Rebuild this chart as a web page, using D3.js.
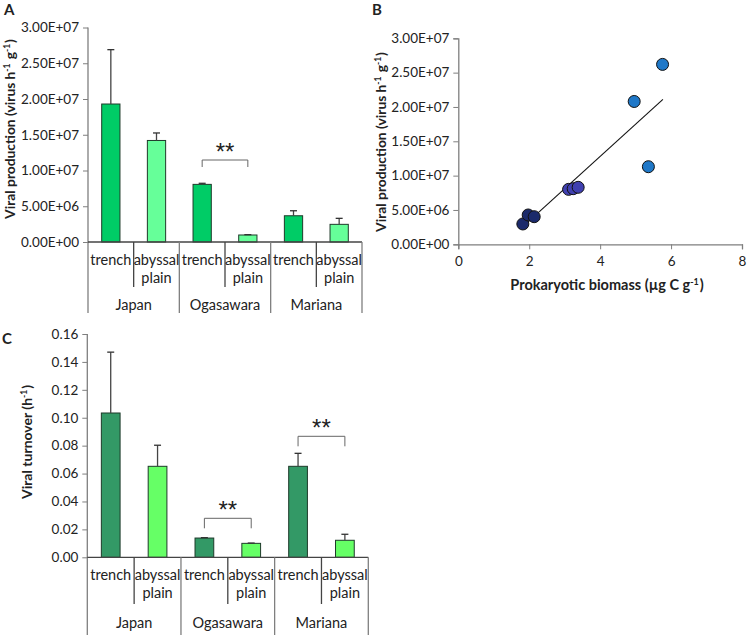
<!DOCTYPE html>
<html><head><meta charset="utf-8">
<script src="https://cdn.jsdelivr.net/npm/d3@7/dist/d3.min.js"></script>
<style>
body{margin:0;background:#fff;}
text{font-family:Lato,"Open Sans",sans-serif;fill:#222;}
</style></head>
<body><svg id="c" width="750" height="635"></svg>
<script>
// ---------- DATA ----------
const regions = ["Japan","Ogasawara","Mariana"];
const sites = ["trench","abyssal plain"];
// Panel A: viral production (virus h-1 g-1)
const prodMean = [19.3e6, 14.2e6, 8.06e6, 0.98e6, 3.67e6, 2.47e6];
const prodErr  = [7.6e6, 1.05e6, 0.15e6, 0.05e6, 0.7e6, 0.84e6];
const prodTicks = [0,5e6,10e6,15e6,20e6,25e6,30e6];
// Panel B: prokaryotic biomass vs viral production
const bioX = [1.82,1.97,2.14, 3.11,3.24,3.38, 4.96,5.36,5.76];
const bioY = [2.96e6,4.27e6,4.02e6, 8.0e6,8.1e6,8.3e6, 20.8e6,11.3e6,26.2e6];
const bioGroup = ["Mariana","Mariana","Mariana","Ogasawara","Ogasawara","Ogasawara","Japan","Japan","Japan"];
const trendX = [1.79, 5.77];
const trendY = [2.42e6, 21.1e6];
const bioTicksX = [0,2,4,6,8];
// Panel C: viral turnover (h-1)
const turnMean = [0.1034, 0.0652, 0.0138, 0.0100, 0.0652, 0.0122];
const turnErr  = [0.0436, 0.0151, 0.0003, 0.0002, 0.0093, 0.0043];
const turnTicks = [0,0.02,0.04,0.06,0.08,0.10,0.12,0.14,0.16];
// significance brackets (index pairs of bars)
const sigA = [[2,3]];
const sigC = [[2,3],[4,5]];

const svg = d3.select("#c");
const axisCol = "#7f7f7f";
const fmtE = v => { if(v===0) return "0.00E+00"; const e=Math.floor(Math.log10(v)); const m=v/Math.pow(10,e); return m.toFixed(2)+"E+"+String(e).padStart(2,"0"); };

function supTitle(g, parts, x, y, rotate, size){
  const t = g.append("text").attr("transform",`translate(${x},${y})`+(rotate?" rotate(-90)":""))
    .attr("text-anchor","middle").attr("font-weight","bold").attr("font-size",size);
  parts.forEach(p=>{
    if(p.sup){ t.append("tspan").attr("dy",-5).attr("font-size",size*0.62).text(p.t); t.append("tspan").attr("dy",5).text("\u200A"); }
    else t.append("tspan").text(p.t);
  });
  return t;
}

function stars(g, cx, cy){
  g.append("text").attr("x",cx).attr("y",cy+12.5).attr("text-anchor","middle")
    .attr("font-size",24).style("font-family","'Liberation Sans',Arial,sans-serif").attr("fill","#333").text("**");
}

function barPanel(cfg){
  const g = svg.append("g");
  const cats = d3.range(6);
  const x = d3.scaleBand().domain(cats).range([cfg.x0,cfg.x1]).paddingInner(0).paddingOuter(0);
  const y = d3.scaleLinear().domain(cfg.ydom).range([cfg.yb,cfg.yt]);
  const bw = x.bandwidth()*0.4;
  g.selectAll("rect.bar").data(cfg.mean).join("rect")
    .attr("x",(d,i)=>x(i)+x.bandwidth()/2-bw/2).attr("width",bw)
    .attr("y",d=>y(d)).attr("height",d=>y(0)-y(d))
    .attr("fill",(d,i)=>cfg.colors[i%2]).attr("stroke","#1e3a2a").attr("stroke-width",1);
  cfg.mean.forEach((m,i)=>{
    const cx = x(i)+x.bandwidth()/2, top=y(m+cfg.err[i]);
    g.append("line").attr("x1",cx).attr("x2",cx).attr("y1",y(m)).attr("y2",top).attr("stroke","#444").attr("stroke-width",1.3);
    g.append("line").attr("x1",cx-3.5).attr("x2",cx+3.5).attr("y1",top).attr("y2",top).attr("stroke","#333").attr("stroke-width",1.3);
  });
  const ya = d3.axisLeft(y).tickValues(cfg.ticks).tickSize(5).tickPadding(4).tickFormat(cfg.fmt);
  const ag = g.append("g").attr("transform",`translate(${cfg.x0},0)`).call(ya);
  ag.select(".domain").remove();
  ag.selectAll(".tick line").attr("stroke",axisCol);
  ag.selectAll(".tick text").attr("font-size",13.5).attr("fill","#222").style("font-family","Lato");
  g.append("line").attr("x1",cfg.x0).attr("x2",cfg.x0).attr("y1",cfg.yt).attr("y2",cfg.yGroupEnd).attr("stroke",axisCol).attr("stroke-width",1.3);
  g.append("line").attr("x1",cfg.x0).attr("x2",cfg.x1).attr("y1",cfg.yb).attr("y2",cfg.yb).attr("stroke","#444").attr("stroke-width",1.3);
  d3.range(1,7).forEach(k=>{
    const sx = k<6 ? x(k) : cfg.x1;
    const end = (k%2===0) ? cfg.yGroupEnd : cfg.ySubEnd;
    g.append("line").attr("x1",sx).attr("x2",sx).attr("y1",cfg.yb).attr("y2",end).attr("stroke",k%2===0?axisCol:"#444").attr("stroke-width",1.3);
  });
  cats.forEach(i=>{
    const cx = x(i)+x.bandwidth()/2;
    const words = sites[i%2].split(" ");
    words.forEach((w,j)=>{
      g.append("text").attr("x",cx).attr("y",cfg.yb+23+j*18).attr("text-anchor","middle").attr("font-size",14.5).text(w);
    });
  });
  regions.forEach((r,k)=>{
    const cx = (x(2*k)+x(2*k+1)+x.bandwidth())/2;
    g.append("text").attr("x",cx).attr("y",cfg.yGroupLabel).attr("text-anchor","middle").attr("font-size",14.5).text(r);
  });
  cfg.sig.forEach((p,n)=>{
    const xa = x(p[0])+x.bandwidth()/2, xb = x(p[1])+x.bandwidth()/2;
    const by = cfg.sigY[n], leg = cfg.sigLeg;
    g.append("path").attr("d",`M${xa},${by+leg}V${by}H${xb}V${by+leg}`).attr("fill","none").attr("stroke","#666").attr("stroke-width",1);
    stars(g,(xa+xb)/2, by-13);
  });
  return g;
}

// Panel A
barPanel({x0:88,x1:362,yb:242,yt:27.5,ydom:[0,3e7],mean:prodMean,err:prodErr,ticks:prodTicks,fmt:fmtE,
  colors:["#00cc66","#66ff99"],ySubEnd:287,yGroupEnd:313,yGroupLabel:310,sig:sigA,sigY:[160],sigLeg:7});
supTitle(svg,[{t:"Viral production (virus h"},{t:"-1",sup:true},{t:" g"},{t:"-1",sup:true},{t:")"}],15,129,true,13.8);
svg.append("text").attr("x",4).attr("y",15).attr("font-weight","bold").attr("font-size",15).text("A");

// Panel C
barPanel({x0:87.3,x1:368.3,yb:557.3,yt:334,ydom:[0,0.16],mean:turnMean,err:turnErr,ticks:turnTicks,fmt:d3.format(".2f"),
  colors:["#339966","#66ff66"],ySubEnd:604,yGroupEnd:640,yGroupLabel:628,sig:sigC,sigY:[518.3,436.3],sigLeg:10});
supTitle(svg,[{t:"Viral turnover (h"},{t:"-1",sup:true},{t:")"}],32,442,true,14);
svg.append("text").attr("x",2).attr("y",344).attr("font-weight","bold").attr("font-size",15).text("C");

// Panel B
(function(){
  const g = svg.append("g");
  const x = d3.scaleLinear().domain([0,8]).range([458.3,742]);
  const y = d3.scaleLinear().domain([0,3e7]).range([244.3,38.3]);
  const xa = g.append("g").attr("transform",`translate(0,${y(0)})`).call(d3.axisBottom(x).tickValues(bioTicksX).tickSize(5).tickPadding(7).tickFormat(d3.format("d")));
  const ya = g.append("g").attr("transform",`translate(${x(0)},0)`).call(d3.axisLeft(y).tickValues(prodTicks).tickSize(5).tickPadding(4).tickFormat(fmtE));
  [xa,ya].forEach(a=>{
    a.select(".domain").attr("stroke",axisCol).attr("stroke-width",1.3);
    a.selectAll(".tick line").attr("stroke",axisCol);
    a.selectAll(".tick text").attr("font-size",13.5).attr("fill","#222").style("font-family","Lato");
  });
  g.append("line").attr("x1",x(trendX[0])).attr("y1",y(trendY[0])).attr("x2",x(trendX[1])).attr("y2",y(trendY[1])).attr("stroke","#111").attr("stroke-width",1.1);
  const col = {Mariana:"#1b2a6b",Ogasawara:"#4040b0",Japan:"#1f78c8"};
  g.selectAll("circle").data(bioX).join("circle")
    .attr("cx",d=>x(d)).attr("cy",(d,i)=>y(bioY[i])).attr("r",6)
    .attr("fill",(d,i)=>col[bioGroup[i]]).attr("stroke","#111").attr("stroke-width",1);
  supTitle(svg,[{t:"Viral production (virus h"},{t:"-1",sup:true},{t:" g"},{t:"-1",sup:true},{t:")"}],386,142,true,13.8);
  supTitle(svg,[{t:"Prokaryotic biomass (µg C g"},{t:"-1",sup:true},{t:")"}],607,290,false,14.5);
  svg.append("text").attr("x",372).attr("y",15).attr("font-weight","bold").attr("font-size",15).text("B");
})();
</script></body></html>
